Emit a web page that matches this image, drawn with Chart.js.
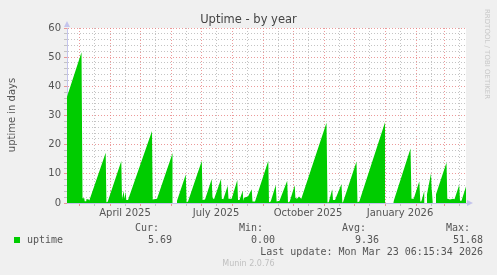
<!DOCTYPE html>
<html>
<head>
<meta charset="utf-8">
<script src="https://cdn.jsdelivr.net/npm/chart.js@4.4.0/dist/chart.umd.min.js"></script>
<style>
  body { margin: 0; background: #f0f0f0; }
  #wrap { position: relative; width: 497px; height: 275px; overflow: hidden; }
  #chart { position: absolute; left: 0; top: 0; }
  .t { position: absolute; white-space: nowrap; font-family: "DejaVu Sans Mono", monospace; font-size: 10px; line-height: 12px; color: #555; }
  .r { text-align: right; }
</style>
</head>
<body>
<div id="wrap">
  <canvas id="chart" width="497" height="275"></canvas>
  <div class="t" style="left:0;width:497px;top:12px;text-align:center;font-family:'DejaVu Sans';font-size:11.5px;line-height:14px;color:#444">Uptime - by year</div>
  <div class="t" style="left:-40px;top:109px;width:104px;text-align:center;font-family:'DejaVu Sans';transform:rotate(-90deg)">uptime in days</div>
  <div class="t" style="left:436px;top:56px;width:102px;text-align:left;font-family:'DejaVu Sans';font-size:7px;line-height:8px;color:#c8c8c8;transform:rotate(90deg)">RRDTOOL / TOBI OETIKER</div>

  <div style="position:absolute;left:14px;top:237px;width:6px;height:6px;background:#00cc00"></div>
  <div class="t" style="left:27px;top:234px">uptime</div>

  <div class="t r" style="right:338px;top:222px">Cur:</div>
  <div class="t r" style="right:325px;top:234px">5.69</div>
  <div class="t r" style="right:234px;top:222px">Min:</div>
  <div class="t r" style="right:222px;top:234px">0.00</div>
  <div class="t r" style="right:131px;top:222px">Avg:</div>
  <div class="t r" style="right:118px;top:234px">9.36</div>
  <div class="t r" style="right:27px;top:222px">Max:</div>
  <div class="t r" style="right:14px;top:234px">51.68</div>
  <div class="t r" style="right:14px;top:246px">Last update: Mon Mar 23 06:15:34 2026</div>
  <div class="t" style="left:0;width:497px;top:259px;text-align:center;font-family:'DejaVu Sans';font-size:8px;line-height:10px;color:#c0c0c0">Munin 2.0.76</div>
</div>

<script>
// days since 2025-02-17 (left edge of the graph)
const uptimeDay = [0, 14.5, 15.5, 17.3, 17.7, 19, 19.3, 21.3, 22.3, 38.7, 39.4, 40.7, 54.3, 55, 56.7, 57.3, 58.7, 59.3, 61,
  85, 85.7, 90, 105.7, 106.5, 110, 118.8, 119.6, 121, 134.8, 135.6, 138, 144.7, 145.5, 147, 154, 154.8, 156.3,
  160.7, 161.5, 164.7, 170.3, 171, 172.5, 175.7, 176.3, 177, 181, 184.7, 185.5, 188, 201.3, 202, 203.7, 208.8,
  209.6, 212.5, 220.2, 221, 222.7, 227.7, 228.4, 230, 232, 234.3, 259.5, 260.5, 261.7, 265.2, 266, 268, 274.5,
  275.3, 276, 289.5, 290.5, 292.3, 318.2, 319, 326.3, 343.5, 344.5, 346.7, 352.3, 353.3, 354.3, 357.5, 358.5,
  360, 364, 364.6, 365.8, 366.5, 369, 379.5, 380.3, 383, 386, 387.5, 392.2, 393, 394.5, 399]
const uptimeValue = [36.4, 51.68, 1.6, 1.6, 0.6, 0.6, 1.3, 1.3, 0.9, 17.2, 0.3, 0.4, 14.4, 1.3, 4.2, 1.5, 3.8, 1.0, 1.0,
  24.7, 1.2, 1.5, 17.2, null, 0.8, 9.8, 0.3, 0.5, 14.5, 1.0, 1.2, 8.2, 1.8, 1.3, 8.2, 1.5, 1.3,
  5.9, 1.5, 1.5, 7.9, 1.0, 1.0, 4.2, 0.8, 1.8, 2.2, 4.7, 0.5, 0.5, 14.5, 0.3, 0.5, 6.2,
  0.5, 0.8, 7.6, 0.2, 0.5, 6.1, 1.8, 1.5, 2.2, 1.5, 27.5, 0.2, 0.3, 4.7, 1.0, 1.0, 6.5,
  0.2, 0.3, 14.2, 0.3, 0.5, 27.9, null, 0.3, 18.7, 1.5, 1.5, 7.5, 0.5, 0.5, 4.4, null,
  3.0, 10.2, 5.0, 0.5, null, 3.0, 13.9, 1.5, 1.2, 1.5, 1.3, 6.2, 0.8, 0.8, 5.69]

const monthStarts = [12, 43, 73, 104, 134, 165, 196, 226, 257, 287, 318, 349, 377]
const midMonths = [27, 58, 88, 119, 149, 180, 211, 241, 272, 302, 333, 364, 392]
const labelDays = [58, 149, 241, 333]
const labelTexts = ["April 2025", "July 2025", "October 2025", "January 2026"]
const yGridValues = [0, 2, 4, 6, 8, 10, 12, 14, 16, 18, 20, 22, 24, 26, 28, 30, 32, 34, 36, 38, 40, 42, 44, 46, 48, 50, 52, 54, 56, 58, 60]

const majorColor = "rgba(230, 120, 120, 0.75)"
const minorColor = "rgba(190, 190, 190, 0.9)"
const axisColor = "#c4c4ec"

const points = uptimeDay.map((d, i) => ({ x: d, y: uptimeValue[i] }))

const plotBg = {
  id: "plotBg",
  beforeDraw(chart) {
    const { ctx, chartArea: a } = chart
    ctx.save()
    ctx.fillStyle = "#ffffff"
    ctx.fillRect(a.left, a.top, a.right - a.left, a.bottom - a.top)
    ctx.restore()
  },
  afterDraw(chart) {
    const { ctx, chartArea: a } = chart
    ctx.save()
    ctx.fillStyle = axisColor
    ctx.beginPath()
    ctx.moveTo(a.left - 3, a.top - 1)
    ctx.lineTo(a.left + 3, a.top - 1)
    ctx.lineTo(a.left, a.top - 7)
    ctx.fill()
    ctx.beginPath()
    ctx.moveTo(a.right + 1, a.bottom - 3)
    ctx.lineTo(a.right + 1, a.bottom + 3)
    ctx.lineTo(a.right + 7, a.bottom)
    ctx.fill()
    ctx.restore()
  }
}

new Chart(document.getElementById("chart"), {
  type: "line",
  data: {
    datasets: [{
      data: points,
      fill: "origin",
      backgroundColor: "#00cc00",
      borderColor: "rgba(0,0,0,0)",
      borderWidth: 0,
      pointRadius: 0,
      tension: 0,
      spanGaps: false
    }]
  },
  options: {
    responsive: false,
    animation: false,
    layout: { padding: { left: 0, top: 28, right: 31, bottom: 0 } },
    plugins: { legend: { display: false }, tooltip: { enabled: false } },
    scales: {
      x: {
        type: "linear",
        min: 0,
        max: 399,
        afterFit: (s) => { s.height = 72 },
        afterBuildTicks: (s) => {
          s.ticks = monthStarts.concat(midMonths).sort((a, b) => a - b).map(v => ({ value: v }))
        },
        grid: {
          color: (c) => monthStarts.includes(c.tick && c.tick.value) ? majorColor : minorColor,
          tickColor: (c) => monthStarts.includes(c.tick && c.tick.value) ? majorColor : minorColor,
          tickLength: 3,
          tickBorderDash: []
        },
        border: { display: true, color: axisColor, dash: [1, 2] },
        ticks: {
          autoSkip: false,
          maxRotation: 0,
          padding: 1,
          color: "#555",
          font: { family: "DejaVu Sans", size: 10 },
          callback: (v) => {
            const i = labelDays.indexOf(v)
            return i >= 0 ? labelTexts[i] : ""
          }
        }
      },
      y: {
        min: 0,
        max: 60,
        afterFit: (s) => { s.width = 67 },
        afterBuildTicks: (s) => {
          s.ticks = yGridValues.map(v => ({ value: v }))
        },
        grid: {
          color: (c) => (c.tick && c.tick.value % 10 === 0) ? majorColor : minorColor,
          tickColor: (c) => (c.tick && c.tick.value % 10 === 0) ? majorColor : minorColor,
          tickLength: 3,
          tickBorderDash: []
        },
        border: { display: true, color: axisColor, dash: [1, 2] },
        ticks: {
          autoSkip: false,
          padding: 3,
          color: "#555",
          font: { family: "DejaVu Sans", size: 10 },
          callback: (v) => v % 10 === 0 ? String(v) : ""
        }
      }
    }
  },
  plugins: [plotBg]
})
</script>
</body>
</html>
